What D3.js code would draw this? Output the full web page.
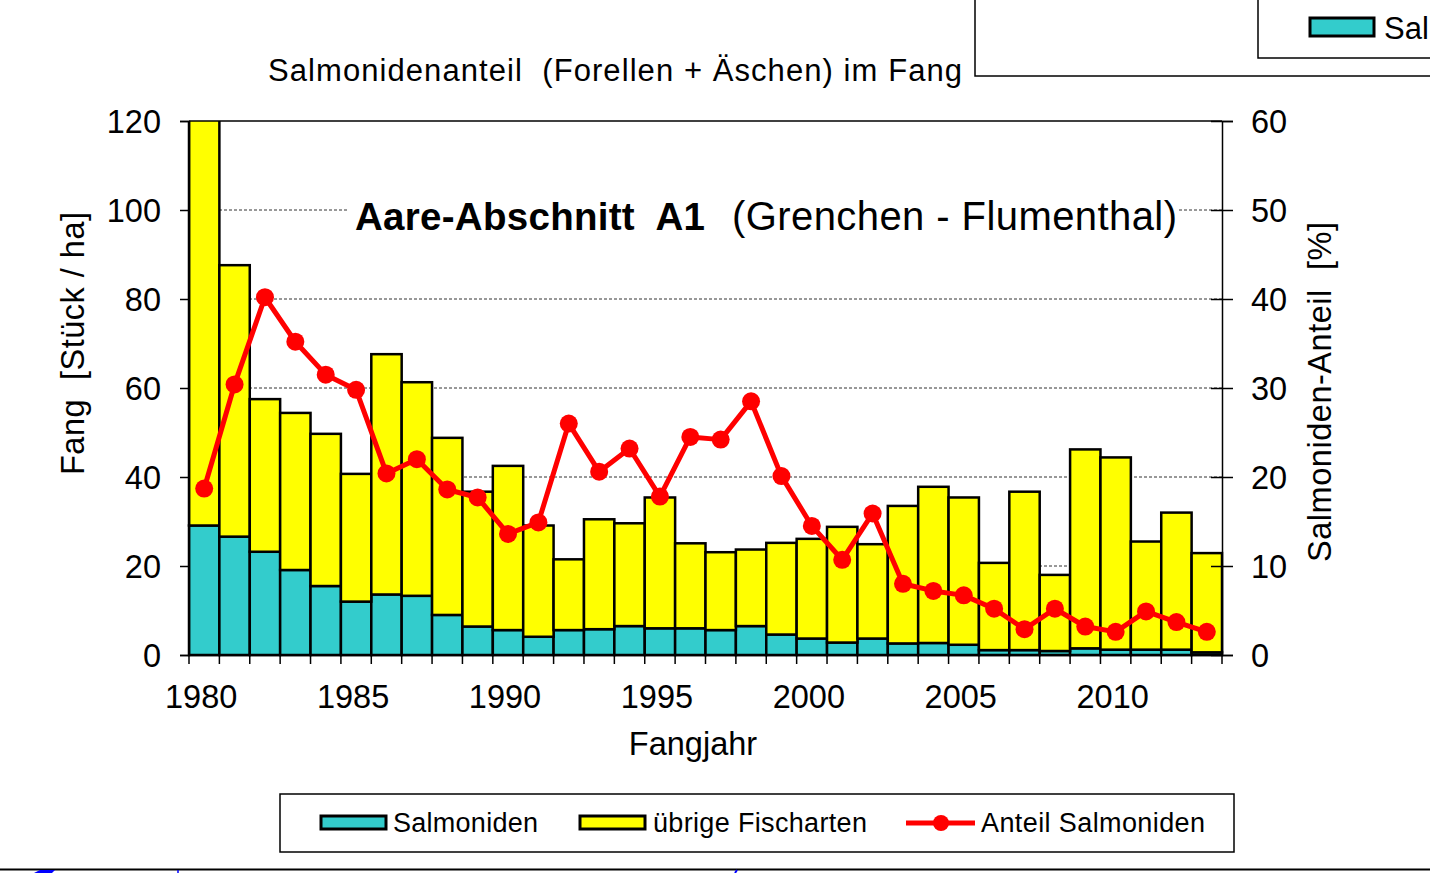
<!DOCTYPE html>
<html lang="de">
<head>
<meta charset="UTF-8">
<title>Aare-Abschnitt A1</title>
<script src="https://d3js.org/d3.v7.min.js"></script>
<style>
  body { margin: 0; background: #fff; }
  text { font-family: "Liberation Sans", Arial, sans-serif; fill: #000; }
</style>
</head>
<body>
<script>
const years = d3.range(1980, 2014);
const salmoniden = [29.1, 26.6, 23.2, 19.1, 15.5, 12.0, 13.6, 13.3, 9.0, 6.4, 5.6, 4.1, 5.6, 5.8, 6.5, 6.0, 6.0,
  5.6, 6.5, 4.6, 3.7, 2.8, 3.7, 2.6, 2.7, 2.3, 1.1, 1.1, 0.9, 1.5, 1.2, 1.2, 1.2, 0.6];
const uebrige = [125.9, 61.0, 34.3, 35.3, 34.2, 28.7, 54.0, 48.0, 39.8, 30.3, 36.9, 25.0, 15.9, 24.7, 23.1, 29.4, 19.1,
  17.5, 17.2, 20.6, 22.4, 26.0, 21.2, 30.9, 35.1, 33.1, 19.6, 35.6, 17.1, 44.7, 43.2, 24.3, 30.8, 22.3];
const anteil = [18.7, 30.4, 40.2, 35.2, 31.5, 29.8, 20.4, 22.0, 18.6, 17.7, 13.6, 14.9, 26.0, 20.6, 23.2, 17.8, 24.5,
  24.2, 28.5, 20.1, 14.5, 10.7, 15.9, 8.0, 7.2, 6.7, 5.2, 2.9, 5.2, 3.2, 2.6, 4.9, 3.7, 2.6];
const yTicks = [0, 20, 40, 60, 80, 100, 120];
const y2Ticks = [0, 10, 20, 30, 40, 50, 60];
const xLabels = [1980, 1985, 1990, 1995, 2000, 2005, 2010];

const W = 1430, H = 873;
const plotL = 189, plotR = 1222, plotT = 121, plotB = 655;

const svg = d3.select("body").append("svg")
  .attr("width", W).attr("height", H);

const x = d3.scaleBand().domain(years).range([plotL, plotR]).padding(0);
const y = d3.scaleLinear().domain([0, 120]).range([plotB, plotT]);
const y2 = d3.scaleLinear().domain([0, 60]).range([plotB, plotT]);

const table = years.map((yr, i) => ({year: yr, salm: salmoniden[i], rest: uebrige[i], pct: anteil[i]}));
const stack = d3.stack().keys(["salm", "rest"])(table);
const colors = {salm: "#33cccc", rest: "#ffff00"};

svg.append("defs").append("clipPath").attr("id", "plot")
  .append("rect").attr("x", plotL - 2).attr("y", plotT).attr("width", plotR - plotL + 4).attr("height", plotB - plotT + 2);

// gridlines
svg.append("g")
  .selectAll("line").data(yTicks.filter(d => d > 0 && d < 120)).join("line")
  .attr("x1", plotL).attr("x2", plotR)
  .attr("y1", d => y(d)).attr("y2", d => y(d))
  .attr("stroke", "#333").attr("stroke-width", 1).attr("stroke-dasharray", "3,2");

// bars
svg.append("g").attr("clip-path", "url(#plot)")
  .selectAll("g").data(stack).join("g")
  .attr("fill", d => colors[d.key])
  .selectAll("rect").data(d => d).join("rect")
  .attr("x", d => x(d.data.year))
  .attr("width", x.bandwidth())
  .attr("y", d => y(d[1]))
  .attr("height", d => y(d[0]) - y(d[1]))
  .attr("stroke", "#000").attr("stroke-width", 2.5);

// inner title with white background
const sub = svg.append("g");
sub.append("rect").attr("x", 348).attr("y", 196).attr("width", 831).attr("height", 44).attr("fill", "#fff");
sub.append("text").attr("x", 355).attr("y", 230).attr("xml:space", "preserve")
  .attr("font-size", 38.5).attr("font-weight", "bold")
  .attr("textLength", 350).attr("lengthAdjust", "spacing").text("Aare-Abschnitt  A1");
sub.append("text").attr("x", 732).attr("y", 230)
  .attr("font-size", 40).attr("textLength", 445).attr("lengthAdjust", "spacing")
  .text("(Grenchen - Flumenthal)");

// axes frame
svg.append("line").attr("x1", plotL).attr("x2", plotR).attr("y1", plotT).attr("y2", plotT)
  .attr("stroke", "#000").attr("stroke-width", 1.5);

const yAxis = svg.append("g").attr("transform", `translate(${plotL},0)`)
  .call(d3.axisLeft(y).tickValues(yTicks).tickSize(9).tickPadding(19));
const y2Axis = svg.append("g").attr("transform", `translate(${plotR},0)`)
  .call(d3.axisRight(y2).tickValues(y2Ticks).tickSize(11).tickPadding(18));
y2Axis.selectAll(".tick line").attr("x1", -11);
const xAxis = svg.append("g").attr("transform", `translate(0,${plotB})`)
  .call(d3.axisBottom(x).tickValues([]).tickSizeOuter(0));
xAxis.selectAll(".tickb").data(d3.range(years.length + 1)).join("line")
  .attr("class", "tickb")
  .attr("x1", i => plotL + i * x.bandwidth()).attr("x2", i => plotL + i * x.bandwidth())
  .attr("y1", 0).attr("y2", 9).attr("stroke", "#000").attr("stroke-width", 1.5);
xAxis.selectAll(".lab").data(xLabels).join("text")
  .attr("class", "lab")
  .attr("x", d => x(d) + x.bandwidth() / 2 - 3).attr("y", 53)
  .attr("text-anchor", "middle").attr("font-size", 32.5).text(d => d);

[yAxis, y2Axis, xAxis].forEach(a => {
  a.selectAll("path.domain").attr("stroke", "#000").attr("stroke-width", 1.5);
  a.selectAll(".tick line").attr("stroke", "#000").attr("stroke-width", 1.5);
  a.selectAll(".tick text").attr("font-size", 32.5).attr("font-family", "Liberation Sans, Arial, sans-serif").attr("fill", "#000");
});
yAxis.selectAll(".tick text").attr("dy", "0.36em");
y2Axis.selectAll(".tick text").attr("dy", "0.36em");

// red line
const line = d3.line().x(d => x(d.year) + x.bandwidth() / 2).y(d => y2(d.pct));
svg.append("path").datum(table).attr("d", line)
  .attr("fill", "none").attr("stroke", "#ff0000").attr("stroke-width", 5).attr("stroke-linejoin", "round");
svg.append("g").selectAll("circle").data(table).join("circle")
  .attr("cx", d => x(d.year) + x.bandwidth() / 2).attr("cy", d => y2(d.pct))
  .attr("r", 9).attr("fill", "#ff0000");

// titles
svg.append("text").attr("x", 268).attr("y", 81).attr("font-size", 31).attr("xml:space", "preserve")
  .attr("textLength", 694).attr("lengthAdjust", "spacing")
  .text("Salmonidenanteil  (Forellen + Äschen) im Fang");
svg.append("text").attr("x", 693).attr("y", 755).attr("text-anchor", "middle").attr("font-size", 32.5).text("Fangjahr");
svg.append("text").attr("transform", "translate(84,343.5) rotate(-90)").attr("text-anchor", "middle")
  .attr("font-size", 32.5).attr("xml:space", "preserve")
  .attr("textLength", 263).attr("lengthAdjust", "spacing").text("Fang  [Stück / ha]");
svg.append("text").attr("transform", "translate(1331,392) rotate(-90)").attr("text-anchor", "middle")
  .attr("font-size", 32.5).attr("xml:space", "preserve")
  .attr("textLength", 340).attr("lengthAdjust", "spacing").text("Salmoniden-Anteil  [%]");

// legend
const lg = svg.append("g");
lg.append("rect").attr("x", 280).attr("y", 794).attr("width", 954).attr("height", 58)
  .attr("fill", "#fff").attr("stroke", "#000").attr("stroke-width", 1.5);
const items = [
  {label: "Salmoniden", key: "salm", sx: 321, tx: 393, len: 145},
  {label: "übrige Fischarten", key: "rest", sx: 580, tx: 653, len: 214},
  {label: "Anteil Salmoniden", key: "pct", sx: 906, tx: 981, len: 224}
];
items.forEach(it => {
  if (it.key === "pct") {
    lg.append("line").attr("x1", it.sx).attr("x2", it.sx + 69).attr("y1", 823).attr("y2", 823)
      .attr("stroke", "#ff0000").attr("stroke-width", 5);
    lg.append("circle").attr("cx", it.sx + 35).attr("cy", 823).attr("r", 8).attr("fill", "#ff0000");
  } else {
    lg.append("rect").attr("x", it.sx).attr("y", 816).attr("width", 65).attr("height", 13)
      .attr("fill", colors[it.key]).attr("stroke", "#000").attr("stroke-width", 3);
  }
  lg.append("text").attr("x", it.tx).attr("y", 832).attr("font-size", 27)
    .attr("textLength", it.len).attr("lengthAdjust", "spacing").text(it.label);
});

// cropped neighbouring elements at the top right and bottom
svg.append("rect").attr("x", 975).attr("y", -10).attr("width", 500).attr("height", 86)
  .attr("fill", "none").attr("stroke", "#000").attr("stroke-width", 1.5);
svg.append("rect").attr("x", 1258).attr("y", -10).attr("width", 200).attr("height", 68)
  .attr("fill", "none").attr("stroke", "#000").attr("stroke-width", 1.5);
svg.append("rect").attr("x", 1310).attr("y", 18).attr("width", 64).attr("height", 18)
  .attr("fill", "#33cccc").attr("stroke", "#000").attr("stroke-width", 3);
svg.append("text").attr("x", 1384).attr("y", 39).attr("font-size", 31).text("Sal");
svg.append("line").attr("x1", 0).attr("x2", W).attr("y1", 869.5).attr("y2", 869.5)
  .attr("stroke", "#000").attr("stroke-width", 2);
svg.append("path").attr("d", "M34,873 L40,870 L55,870 L52,873 Z").attr("fill", "#0000ff");
svg.append("line").attr("x1", 178).attr("x2", 178).attr("y1", 870).attr("y2", 873).attr("stroke", "#0000ff").attr("stroke-width", 1.5);
svg.append("line").attr("x1", 737).attr("x2", 735).attr("y1", 870).attr("y2", 873).attr("stroke", "#0000ff").attr("stroke-width", 2);
</script>
</body>
</html>
